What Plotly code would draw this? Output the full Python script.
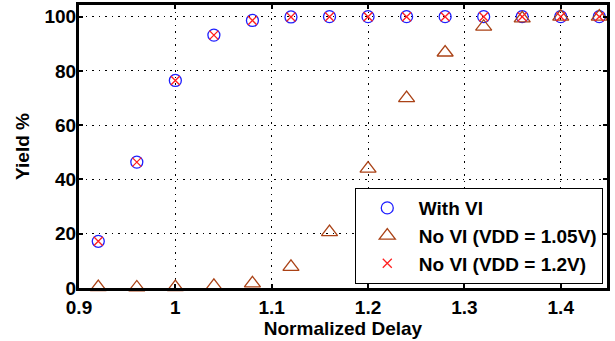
import plotly.graph_objects as go

delay = [0.92, 0.96, 1.00, 1.04, 1.08, 1.12, 1.16, 1.20, 1.24, 1.28, 1.32, 1.36, 1.40, 1.44]
with_vi = [17.2, 46.4, 76.5, 93.2, 98.6, 99.9, 100, 100, 100, 100, 100, 100, 100, 100]
no_vi_105 = [0.3, 0.2, 0.3, 0.8, 1.7, 7.8, 20.6, 44.0, 70.0, 86.8, 96.3, 99.4, 100, 100]
no_vi_12 = [17.2, 46.4, 76.5, 93.2, 98.6, 99.9, 100, 100, 100, 100, 100, 100, 100, 100]

x_ticks = [0.9, 1.0, 1.1, 1.2, 1.3, 1.4]
x_tick_text = ["0.9", "1", "1.1", "1.2", "1.3", "1.4"]
y_ticks = [0, 20, 40, 60, 80, 100]

FONT = "Liberation Sans, Arial, sans-serif"
BROWN = "rgb(170,66,22)"

fig = go.Figure()
fig.add_trace(go.Scatter(
    x=delay, y=with_vi, mode="markers", name="<b>With VI</b>",
    marker=dict(symbol="circle-open", size=12, color="#1f1fff", line=dict(width=1.3)),
    cliponaxis=False))
fig.add_trace(go.Scatter(
    x=delay, y=no_vi_105, mode="markers", name="<b>No VI (VDD = 1.05V)</b>",
    marker=dict(symbol="triangle-up-open", size=14, color=BROWN, line=dict(width=1.3)),
    cliponaxis=False))
fig.add_trace(go.Scatter(
    x=delay, y=no_vi_12, mode="markers", name="<b>No VI (VDD = 1.2V)</b>",
    marker=dict(symbol="x-thin-open", size=9, color="#ff1f1f", line=dict(width=1.3, color="#ff1f1f")),
    cliponaxis=False))

axis_common = dict(
    showline=True, linewidth=3, linecolor="black", mirror="ticks",
    ticks="inside", ticklen=4, tickwidth=2, tickcolor="black",
    showgrid=True, gridcolor="black", gridwidth=1, griddash="1.5px,5px",
    zeroline=False, automargin=True,
    tickfont=dict(family=FONT, size=19, color="black", weight="bold"),
)

fig.update_xaxes(
    range=[0.9, 1.448], tickvals=x_ticks, ticktext=x_tick_text,
    title=dict(text="<b>Normalized Delay</b>", font=dict(family=FONT, size=19, color="black"), standoff=4),
    **axis_common)
fig.update_yaxes(
    range=[0, 104.3], tickvals=y_ticks, ticklabelstandoff=-4,
    title=dict(text="<b>Yield %</b>", font=dict(family=FONT, size=19, color="black"), standoff=10),
    **axis_common)

fig.update_layout(
    width=615, height=341,
    margin=dict(l=79, r=8, t=5, b=53, autoexpand=False),
    plot_bgcolor="white", paper_bgcolor="white",
    font=dict(family=FONT, size=19, color="black"),
    legend=dict(
        x=0.992, y=0.014, xanchor="right", yanchor="bottom",
        bgcolor="white", bordercolor="black", borderwidth=1,
        font=dict(family=FONT, size=19, color="black"),
        itemsizing="trace", itemwidth=53,
    ),
    showlegend=True,
)

fig.write_html("out.html", config={"displayModeBar": False},
               post_script="document.body.style.margin='0';")
